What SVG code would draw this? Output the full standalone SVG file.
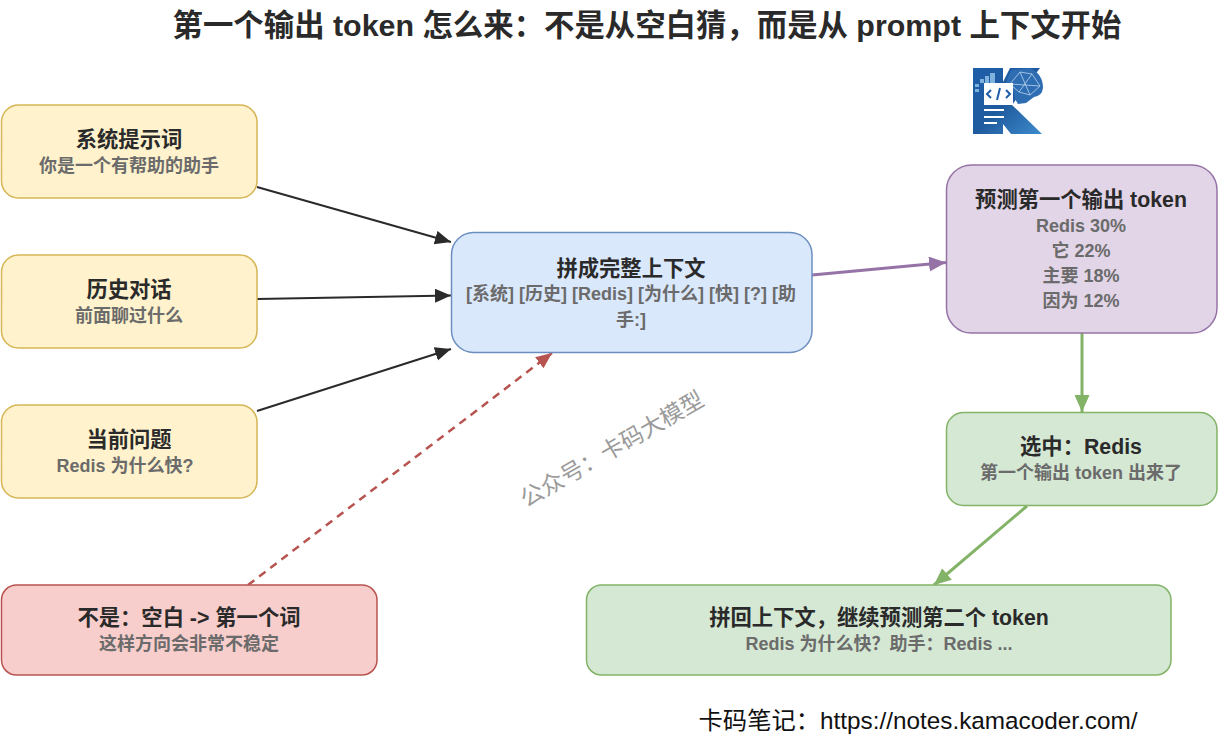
<svg xmlns="http://www.w3.org/2000/svg" width="1220" height="752" viewBox="0 0 1220 752">
<style>
text{font-family:"Liberation Sans","Noto Sans CJK SC",sans-serif;text-anchor:middle;font-weight:700}
.t{font-size:21.300px;fill:#2a2a2a}
.s{font-size:18px;fill:#6b6b6b}
.box{stroke-width:1.500}
.y{fill:#fff2cc;stroke:#d6b656}
.b{fill:#dae8fc;stroke:#6c8ebf}
.p{fill:#e1d5e7;stroke:#9673a6}
.g{fill:#d5e8d4;stroke:#82b366}
.r{fill:#f8cecc;stroke:#b85450}
</style>
<defs>
<marker id="ak" markerUnits="userSpaceOnUse" markerWidth="18" markerHeight="16" refX="16" refY="7" orient="auto"><path d="M0 0L16 7L0 14z" fill="#2a2a2a"/></marker>
<marker id="ap" markerUnits="userSpaceOnUse" markerWidth="18" markerHeight="16" refX="17" refY="7.500" orient="auto"><path d="M0 0L17 7.500L0 15z" fill="#9673a6"/></marker>
<marker id="ag" markerUnits="userSpaceOnUse" markerWidth="18" markerHeight="16" refX="17" refY="7.500" orient="auto"><path d="M0 0L17 7.500L0 15z" fill="#82b366"/></marker>
<marker id="ar" markerUnits="userSpaceOnUse" markerWidth="18" markerHeight="16" refX="16" refY="7" orient="auto"><path d="M0 0L16 7L0 14z" fill="#b85450"/></marker>
<linearGradient id="lg" x1="0" y1="0" x2="1" y2="1"><stop offset="0" stop-color="#1f5ea8"/><stop offset="0.500" stop-color="#1f5a9e"/><stop offset="1" stop-color="#3d8bcb"/></linearGradient>
</defs>
<text x="647" y="36" style="font-size:30.400px;fill:#2a2a2a">第一个输出 token 怎么来：不是从空白猜，而是从 prompt 上下文开始</text>
<g id="connectors" fill="none">
<path d="M257 187L451 242" stroke="#2a2a2a" stroke-width="2" marker-end="url(#ak)"/>
<path d="M257 299L451 295.500" stroke="#2a2a2a" stroke-width="2" marker-end="url(#ak)"/>
<path d="M257 411L451 349" stroke="#2a2a2a" stroke-width="2" marker-end="url(#ak)"/>
<path d="M248 585L552 353" stroke="#b85450" stroke-width="2.500" stroke-dasharray="8 6" marker-end="url(#ar)"/>
<path d="M812 275L946 262.500" stroke="#9673a6" stroke-width="3" marker-end="url(#ap)"/>
<path d="M1082 333L1082 412" stroke="#82b366" stroke-width="3" marker-end="url(#ag)"/>
<path d="M1027 506L934 585" stroke="#82b366" stroke-width="3" marker-end="url(#ag)"/>
</g>
<g id="n1"><rect class="box y" x="1.500" y="105" width="255.500" height="93" rx="17"/><text class="t" x="129" y="147">系统提示词</text><text class="s" x="129" y="172">你是一个有帮助的助手</text></g>
<g id="n2"><rect class="box y" x="1.500" y="255" width="255.500" height="93" rx="17"/><text class="t" x="129" y="297">历史对话</text><text class="s" x="129" y="322">前面聊过什么</text></g>
<g id="n3"><rect class="box y" x="1.500" y="405" width="255.500" height="93" rx="17"/><text class="t" x="129" y="447">当前问题</text><text class="s" x="125" y="472">Redis 为什么快?</text></g>
<g id="n4"><rect class="box r" x="1.500" y="585" width="375.500" height="90" rx="15"/><text class="t" x="189" y="625">不是：空白 -&gt; 第一个词</text><text class="s" x="189" y="650">这样方向会非常不稳定</text></g>
<g id="n5"><rect class="box b" x="451.500" y="232.500" width="360.500" height="120" rx="22"/><text class="t" x="631" y="276">拼成完整上下文</text><text class="s" x="631" y="300">[系统] [历史] [Redis] [为什么] [快] [?] [助</text><text class="s" x="631" y="326">手:]</text></g>
<g id="n6"><rect class="box p" x="946.500" y="165" width="270.500" height="168" rx="25"/><text class="t" x="1081" y="207">预测第一个输出 token</text><text class="s" x="1081" y="232">Redis 30%</text><text class="s" x="1081" y="257">它 22%</text><text class="s" x="1081" y="282">主要 18%</text><text class="s" x="1081" y="307">因为 12%</text></g>
<g id="n7"><rect class="box g" x="946.500" y="412.500" width="270.500" height="93" rx="17"/><text class="t" x="1081" y="454">选中：Redis</text><text class="s" x="1081" y="479">第一个输出 token 出来了</text></g>
<g id="n8"><rect class="box g" x="586.500" y="585" width="584.500" height="90" rx="15"/><text class="t" x="879" y="625">拼回上下文，继续预测第二个 token</text><text class="s" x="879" y="650">Redis 为什么快？助手：Redis ...</text></g>
<text x="616" y="456" transform="rotate(-30 616 456)" style="font-size:23px;font-weight:400;fill:#9a9a9a">公众号：卡码大模型</text>
<text x="918" y="729" style="font-size:24.300px;font-weight:400;fill:#111">卡码笔记：https://notes.kamacoder.com/</text>
<g id="logo">
<path d="M973 68H1003V82L1010 68H1040L1012 105L1042 134H1011L1003 124V134H973z" fill="url(#lg)"/>
<path d="M1005 85L1011 70L1030 68Q1043 74 1043 88Q1042 96 1034 97L1026 103L1018 104Q1014 98 1014 92z" fill="#2f6db3"/>
<path d="M1010 84L1020 72L1032 74L1040 86L1030 95L1019 92zM1020 72L1030 95M1032 74L1019 92M1010 84L1040 86" stroke="#b9d6ee" stroke-width="0.800" fill="none"/>
<g fill="#7fb2dc"><rect x="975" y="84" width="4" height="3"/><rect x="975" y="89" width="4" height="3"/><rect x="980" y="79" width="4" height="4"/><rect x="985" y="76" width="4" height="7"/><rect x="990" y="73" width="5" height="10"/></g>
<rect x="984" y="83" width="29" height="22" fill="#fff"/>
<path d="M991 90l-4 4l4 4M1006 90l4 4l-4 4M1000 88l-3 12" stroke="#1f5ea8" stroke-width="2" fill="none"/>
<path d="M984 110h20M984 117h20M984 123h13" stroke="#fff" stroke-width="2"/>
</g>
</svg>
